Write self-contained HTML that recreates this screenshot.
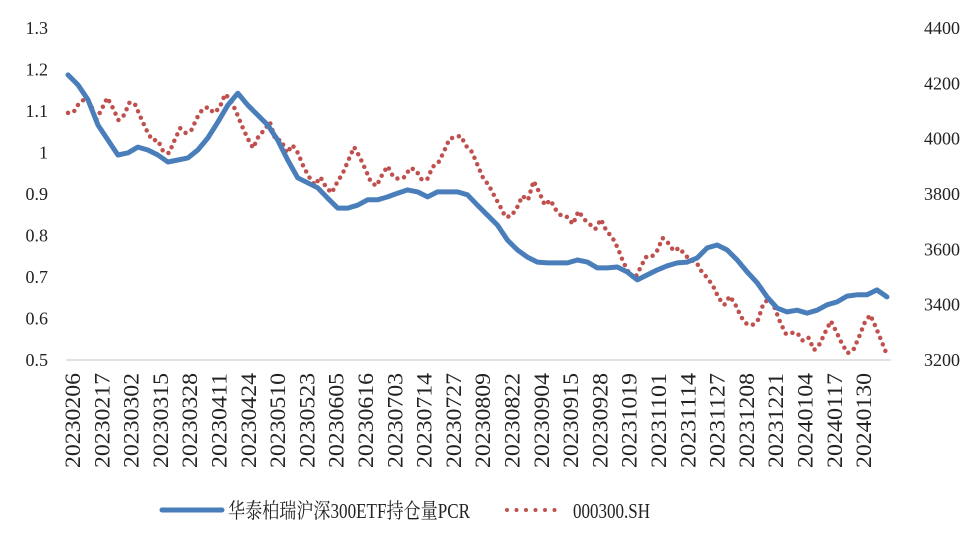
<!DOCTYPE html>
<html><head><meta charset="utf-8"><style>
html,body{margin:0;padding:0;background:#fff;}
svg text{font-family:"Liberation Serif","Noto Serif CJK SC",serif;fill:#222;}
</style></head><body>
<svg id="chart" width="972" height="534" viewBox="0 0 972 534" xmlns="http://www.w3.org/2000/svg">
<g id="axes"></g>
<g id="series"></g>
<g>
 <g>
  <line x1="162" y1="510" x2="222" y2="510" stroke="#4a7ebb" stroke-width="5" stroke-linecap="round"/>
  <text x="228" y="518" font-size="21" textLength="242" lengthAdjust="spacingAndGlyphs">华泰柏瑞沪深300ETF持仓量PCR</text>
 </g>
 <g>
  <line x1="507" y1="510" x2="560" y2="510" stroke="#c0504d" stroke-width="4" stroke-linecap="round" stroke-dasharray="0 9.5"/>
  <text x="573" y="518" font-size="21" textLength="77" lengthAdjust="spacingAndGlyphs">000300.SH</text>
 </g>
</g>
</svg>
<script>
const xLabels=["20230206","20230217","20230302","20230315","20230328","20230411","20230424","20230510","20230523","20230605","20230616","20230703","20230714","20230727","20230809","20230822","20230904","20230915","20230928","20231019","20231101","20231114","20231127","20231208","20231221","20240104","20240117","20240130"];
const leftTicks=[0.5,0.6,0.7,0.8,0.9,1,1.1,1.2,1.3];
const rightTicks=[3200,3400,3600,3800,4000,4200,4400];
const pcrValues=[1.187,1.163,1.127,1.066,1.030,0.994,0.999,1.013,1.006,0.994,0.977,0.982,0.987,1.006,1.035,1.073,1.114,1.143,1.114,1.090,1.066,1.030,0.982,0.939,0.927,0.915,0.890,0.866,0.866,0.873,0.886,0.886,0.893,0.902,0.910,0.905,0.893,0.905,0.905,0.905,0.898,0.873,0.849,0.825,0.789,0.765,0.748,0.736,0.734,0.734,0.734,0.741,0.736,0.722,0.722,0.724,0.712,0.693,0.705,0.717,0.727,0.734,0.736,0.746,0.770,0.777,0.765,0.741,0.712,0.686,0.652,0.625,0.616,0.620,0.613,0.620,0.633,0.640,0.654,0.657,0.657,0.669,0.652];
const indexValues=[4093,4096,4129,4143,4129,4067,4107,4148,4111,4067,4085,4132,4122,4075,4031,3995,3995,3952,3948,3995,4038,
4020,4031,4075,4107,4114,4093,4111,4161,4140,4096,4046,4002,3966,4010,4031,4060,3995,3995,3948,3977,3948,3898,3861,3832,3861,3825,3804,3843,3876,3923,3970,3934,3890,3843,3829,3869,3901,3861,3854,3861,3894,3887,3854,3851,3898,3912,3952,3999,4006,4010,3973,3952,3905,
3858,3832,3793,3757,3717,3720,3749,3793,3778,3847,3807,3760,3778,3742,3720,3717,3691,3738,3709,3691,3673,3709,3666,3645,3605,3554,3514,3493,3532,3572,3572,3594,3641,3623,3594,3605,3579,3561,3554,3518,3496,3467,3424,3399,3431,3399,3355,3330,3326,3345,3406,3420,3388,3334,3294,3298,3298,3269,3280,3236,3258,3301,3341,3301,3258,3225,3236,3283,3334,3363,3319,3269,3218];

const X0=68,X1=887,YT=28,YB=360;
function yLeft(v){return YB-(v-0.5)/(1.3-0.5)*(YB-YT);}
function yRight(v){return YB-(v-3200)/(4400-3200)*(YB-YT);}
function xIdx(i,n){return X0+(X1-X0)*i/(n-1);}
function xLab(i){return 72+i*29.3;}
const NS="http://www.w3.org/2000/svg";
const axes=document.getElementById('axes'),ser=document.getElementById('series');
function mk(tag,attrs,parent){const e=document.createElementNS(NS,tag);for(const k in attrs)e.setAttribute(k,attrs[k]);parent.appendChild(e);return e;}

const base=mk('line',{x1:X0-2,x2:X1+4,y1:YB,y2:YB,stroke:'#d9d9d9','stroke-width':1.5},axes);


leftTicks.forEach(v=>{
 const t=mk('text',{x:48,y:yLeft(v)+6,'text-anchor':'end','font-size':18},axes);
 t.textContent=String(v);
 
 
});
rightTicks.forEach(v=>{
 const t=mk('text',{x:960,y:yRight(v)+6,'text-anchor':'end','font-size':18},axes);
 t.textContent=String(v);
 
 
});
xLabels.forEach((s,i)=>{
 const x=xLab(i);
 const t=mk('text',{x:0,y:0,'text-anchor':'end','font-size':22,textLength:95,lengthAdjust:'spacingAndGlyphs',transform:`translate(${x+8},373) rotate(-90)`},axes);
 t.textContent=s;
 
 
});
const idxPts=indexValues.map((v,i)=>xIdx(i,indexValues.length).toFixed(1)+','+yRight(v).toFixed(1)).join(' ');
const ip=mk('polyline',{points:idxPts,fill:'none',stroke:'#c0504d','stroke-width':4.5,'stroke-linecap':'round','stroke-dasharray':'0 7'},ser);


const pcrPts=pcrValues.map((v,i)=>xIdx(i,pcrValues.length).toFixed(1)+','+yLeft(v).toFixed(1)).join(' ');
const pp=mk('polyline',{points:pcrPts,fill:'none',stroke:'#4a7ebb','stroke-width':5,'stroke-linejoin':'round','stroke-linecap':'round'},ser);


</script>
</body></html>
